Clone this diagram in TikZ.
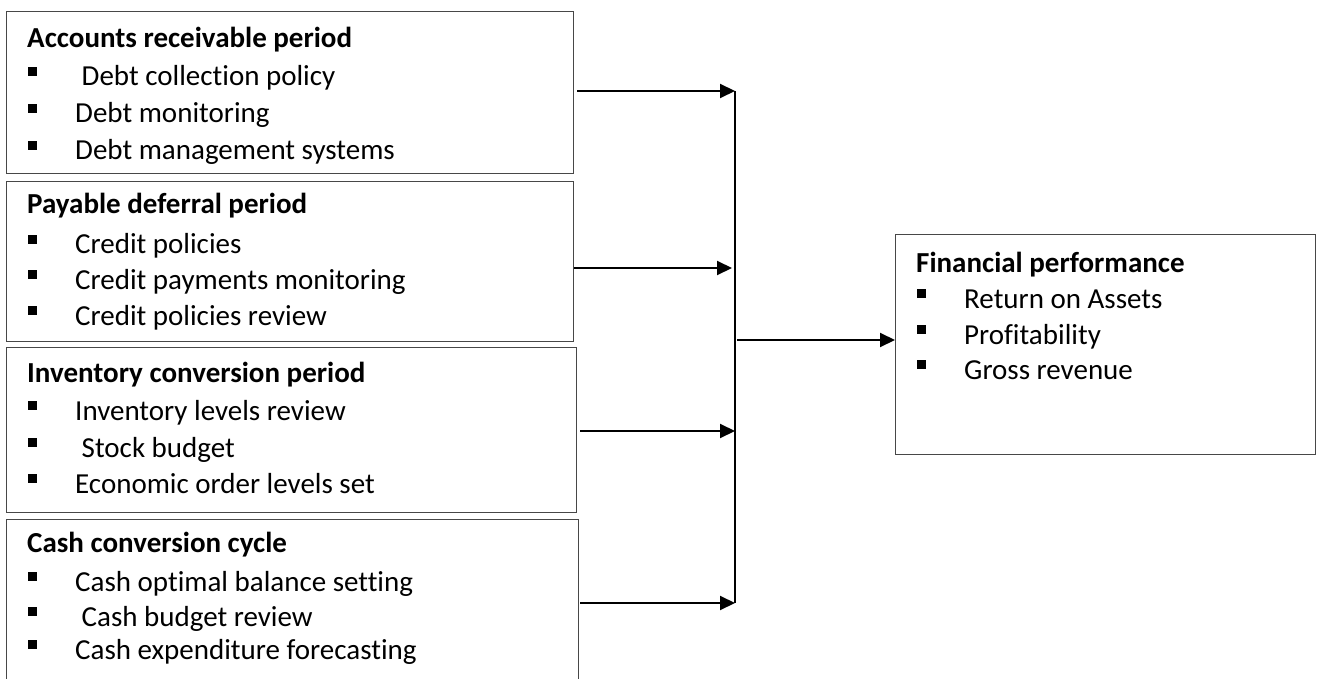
\documentclass[tikz,border=0pt]{standalone}
\usepackage{fontspec}
\setmainfont{Carlito}[Ligatures=NoCommon]
\usetikzlibrary{arrows.meta}
% name, left x, list of item/baseline pairs
\newcommand\panelitems[3]{%
  \foreach \txt/\yy [count=\i] in {#3} {
    \node[bul] (#1-b\i) at (#2+22, \yy-10) {};
    \node[itm] (#1-\i) at (#2+69, \yy) {\txt};
  }
}
\begin{document}
\begin{tikzpicture}[x=1pt,y=-1pt,
  box/.style={draw=black!72, line width=1.1pt, anchor=north west, inner sep=0pt},
  ttl/.style={anchor=base west, inner sep=0pt, font=\fontsize{29}{35}\selectfont\bfseries},
  itm/.style={anchor=base west, inner sep=0pt, font=\fontsize{29}{35}\selectfont},
  bul/.style={fill=black, inner sep=0pt, minimum size=8.5pt, anchor=south west},
  conn/.style={line width=2pt},
  arr/.style={conn, -{Triangle[length=15pt,width=14pt]}}]
\useasboundingbox (0,0) rectangle (1317,679);
\clip (0,0) rectangle (1317,679);

% boxes
\node[box, minimum width=567pt, minimum height=162pt] (b1) at (6,11) {};
\node[box, minimum width=567pt, minimum height=160pt] (b2) at (6,181) {};
\node[box, minimum width=570pt, minimum height=165pt] (b3) at (6,347) {};
\node[box, minimum width=572pt, minimum height=175pt] (b4) at (6,519) {};
\node[box, minimum width=420pt, minimum height=220pt] (fp) at (895,234) {};

% texts
\node[ttl] (b1-t) at (27,48) {Accounts receivable period};
\panelitems{b1}{6}{{\hspace{6.5pt}Debt collection policy}/86,Debt monitoring/123,Debt management systems/160}
\node[ttl] (b2-t) at (27,214) {Payable deferral period};
\panelitems{b2}{6}{Credit policies/254,Credit payments monitoring/289,Credit policies review/325}
\node[ttl] (b3-t) at (27,382) {Inventory conversion period};
\panelitems{b3}{6}{Inventory levels review/420,{\hspace{6.5pt}Stock budget}/457,Economic order levels set/493}
\node[ttl] (b4-t) at (27,552) {Cash conversion cycle};
\panelitems{b4}{6}{Cash optimal balance setting/591,{\hspace{6.5pt}Cash budget review}/626,Cash expenditure forecasting/659}
\node[ttl] (fp-t) at (916,272) {Financial performance};
\panelitems{fp}{895}{Return on Assets/308,Profitability/344,Gross revenue/379}

% connectors
\coordinate (j1) at (735,91);
\coordinate (j2) at (732,268);
\coordinate (j3) at (735,431);
\coordinate (j4) at (735,603);
\coordinate (jt) at (735,91);
\coordinate (jb) at (735,603);
\coordinate (jm) at (737,340);
\draw[arr] ([xshift=3pt]b1.east |- j1) -- (j1);
\draw[arr] (b2.east |- j2) -- (j2);
\draw[arr] ([xshift=3pt]b3.east |- j3) -- (j3);
\draw[arr] ([xshift=1pt]b4.east |- j4) -- (j4);
\draw[conn] (jt) -- (jb);
\draw[arr] (jm) -- (fp.west |- jm);
\end{tikzpicture}
\end{document}
